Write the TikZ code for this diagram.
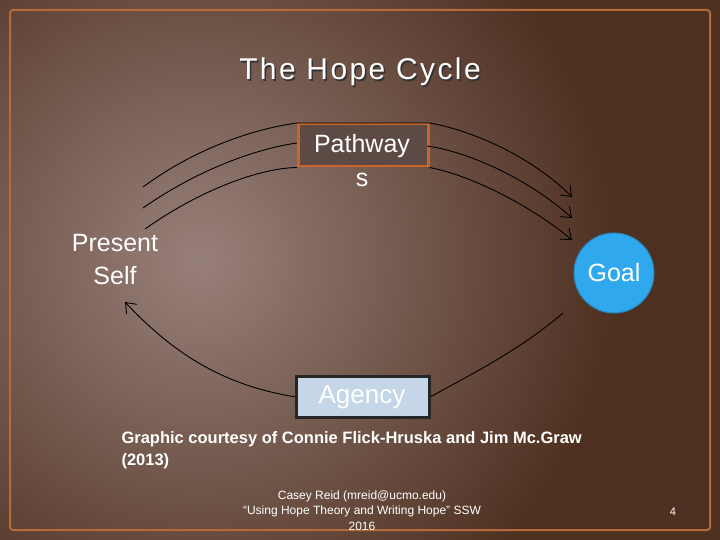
\documentclass[tikz,border=0pt]{standalone}
\usepackage{fontspec}
\setmainfont{Liberation Sans}
\newfontfamily\spaced[LetterSpace=8]{Liberation Sans}
\usetikzlibrary{arrows.meta}
\definecolor{bgin}{HTML}{98807A}
\definecolor{bgout}{HTML}{4E3020}
\definecolor{frame}{HTML}{B56A3C}
\definecolor{pfill}{HTML}{5E4A44}
\definecolor{pdraw}{HTML}{C8662A}
\definecolor{afill}{HTML}{C4D6E8}
\definecolor{gfill}{HTML}{30A8EE}
\tikzset{lbl/.style={text=white,font=\fontsize{25}{30}\selectfont},
 arc/.style={black,line width=0.9pt,-{Straight Barb[length=9pt,width=14pt]}}}
\begin{document}
\begin{tikzpicture}[x=1pt,y=-1pt]
\useasboundingbox (0,0) rectangle (720,540);
\fill[bgout] (0,0) rectangle (720,540);
\begin{scope}
\clip (0,0) rectangle (720,540);
\shade[inner color=bgin,outer color=bgout] (200,260) circle (420);
\end{scope}
\draw[frame,line width=2pt,rounded corners=3pt] (10,10) rectangle (710,530);
\node[text=black!80,font=\spaced\fontsize{30}{34}\selectfont] (titlesh) at (361.5,73.5) {The Hope Cycle};
\node[text=white,font=\spaced\fontsize{30}{34}\selectfont] (title) at (360,72) {The Hope Cycle};
\node[draw=pdraw,line width=2.5pt,fill=pfill,minimum width=130pt,minimum height=42pt,anchor=north west] (pw) at (297,123) {};
\node[lbl] (pwt) at (362,146) {Pathway};
\node[lbl] (pws) at (362,180) {s};
\node[draw=black!85,line width=2.5pt,fill=afill,minimum width=133pt,minimum height=41pt,anchor=north west] (ag) at (295,375) {};
\node[lbl,font=\fontsize{26}{30}\selectfont] (agt) at (362,397) {Agency};
\node[circle,fill=gfill,draw=gfill!80!black,line width=1pt,minimum size=80pt,lbl] (goal) at (614,273) {Goal};
\node[lbl,align=center,font=\fontsize{25}{33}\selectfont] (ps) at (115,260) {Present\\Self};
\coordinate (a1) at (143,187); \coordinate (a2) at (143,208); \coordinate (a3) at (145,229);
\coordinate (b1) at (572,197); \coordinate (b2) at (572,218); \coordinate (b3) at (572,240);
\coordinate (pl2) at (297,143); \coordinate (pr2) at (427,146);
\draw[arc] (a1) .. controls (200,145) and (260,128) .. (pw.north west) -- (pw.north east) .. controls (470,130) and (530,155) .. (b1);
\draw[arc] (a2) .. controls (200,168) and (260,148) .. (pl2) (pr2) .. controls (470,152) and (530,180) .. (b2);
\draw[arc] (a3) .. controls (200,190) and (260,168) .. (pw.south west) (pw.south east) .. controls (470,175) and (530,205) .. (b3);
\coordinate (c1) at (563,313); \coordinate (c2) at (125,302);
\draw[arc] (c1) .. controls (520,350) and (470,375) .. (ag.east) (ag.west) .. controls (220,385) and (170,350) .. (c2);
\node[text=white,font=\bfseries\fontsize{16.5}{22}\selectfont,align=left,anchor=north west] (cap) at (118,428) {Graphic courtesy of Connie Flick-Hruska and Jim Mc.Graw\\(2013)};
\node[text=white,font=\fontsize{12}{15.5}\selectfont,align=center,anchor=north] (foot) at (362,487) {Casey Reid (mreid@ucmo.edu)\\“Using Hope Theory and Writing Hope” SSW\\2016};
\node[text=white,font=\fontsize{11}{14}\selectfont] (pg) at (673,512) {4};
\end{tikzpicture}
\end{document}
